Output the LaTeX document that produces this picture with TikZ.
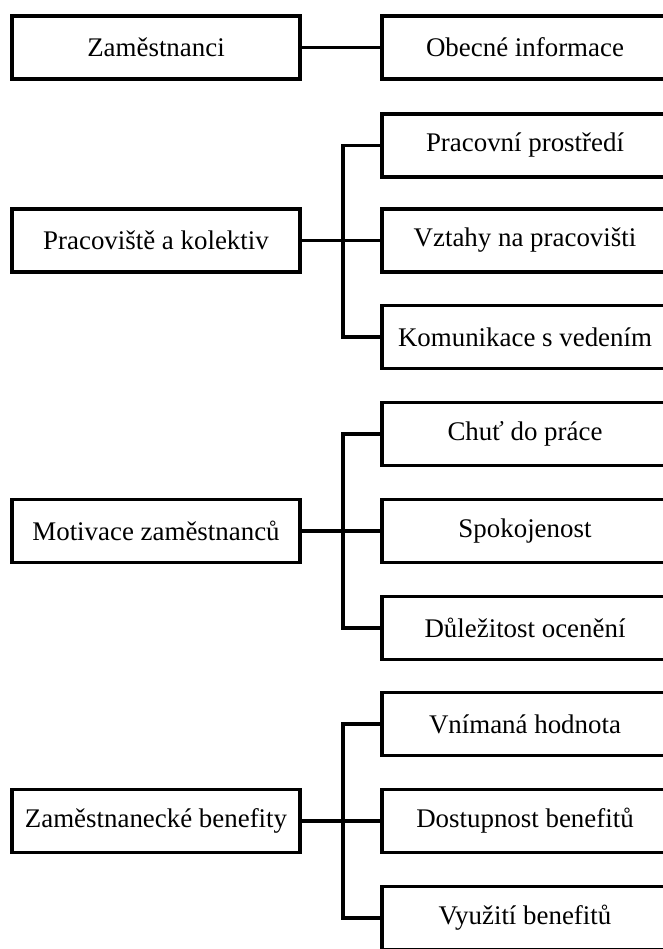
\documentclass[tikz,border=0pt]{standalone}
\usepackage{fontspec}
\setmainfont{Liberation Serif}
\begin{document}
\begin{tikzpicture}[x=1bp,y=-1bp,
  box/.style={draw=black, line width=3.8bp, minimum height=63bp, inner sep=0pt,
    font=\fontsize{27}{32}\selectfont},
  lbox/.style={box, minimum width=288bp},
  rbox/.style={box, minimum width=286bp},
  link/.style={line width=3.8bp}]
\useasboundingbox (0,0) rectangle (663,949);
\clip (0,0) rectangle (663,949);
% row 1
\node[lbox] (L1) at (156,47.5) {Zaměstnanci};
\node[rbox] (R1) at (525,47.5) {Obecné informace};
\draw[link] (L1) -- (R1);
% group 2
\node[lbox] (L2) at (156,240.5) {Pracoviště a kolektiv};
\node[rbox] (R21) at (525,145.5) {Pracovní prostředí};
\node[rbox] (R22) at (525,240.5) {Vztahy na pracovišti};
\node[rbox] (R23) at (525,337) {Komunikace s vedením};
\coordinate (B2) at (343,240.5);
\draw[link] (L2.east) -- (B2) -- (R22.west);
\draw[link] (R21.west) -| (B2) |- (R23.west);
% group 3
\node[lbox] (L3) at (156,531) {Motivace zaměstnanců};
\node[rbox] (R31) at (525,434) {Chuť do práce};
\node[rbox] (R32) at (525,531) {Spokojenost};
\node[rbox] (R33) at (525,628) {Důležitost ocenění};
\coordinate (B3) at (343,531);
\draw[link] (L3.east) -- (B3) -- (R32.west);
\draw[link] (R31.west) -| (B3) |- (R33.west);
% group 4
\node[lbox] (L4) at (156,821) {Zaměstnanecké benefity};
\node[rbox] (R41) at (525,724) {Vnímaná hodnota};
\node[rbox] (R42) at (525,821) {Dostupnost benefitů};
\node[rbox] (R43) at (525,918) {Využití benefitů};
\coordinate (B4) at (343,821);
\draw[link] (L4.east) -- (B4) -- (R42.west);
\draw[link] (R41.west) -| (B4) |- (R43.west);
\end{tikzpicture}
\end{document}
